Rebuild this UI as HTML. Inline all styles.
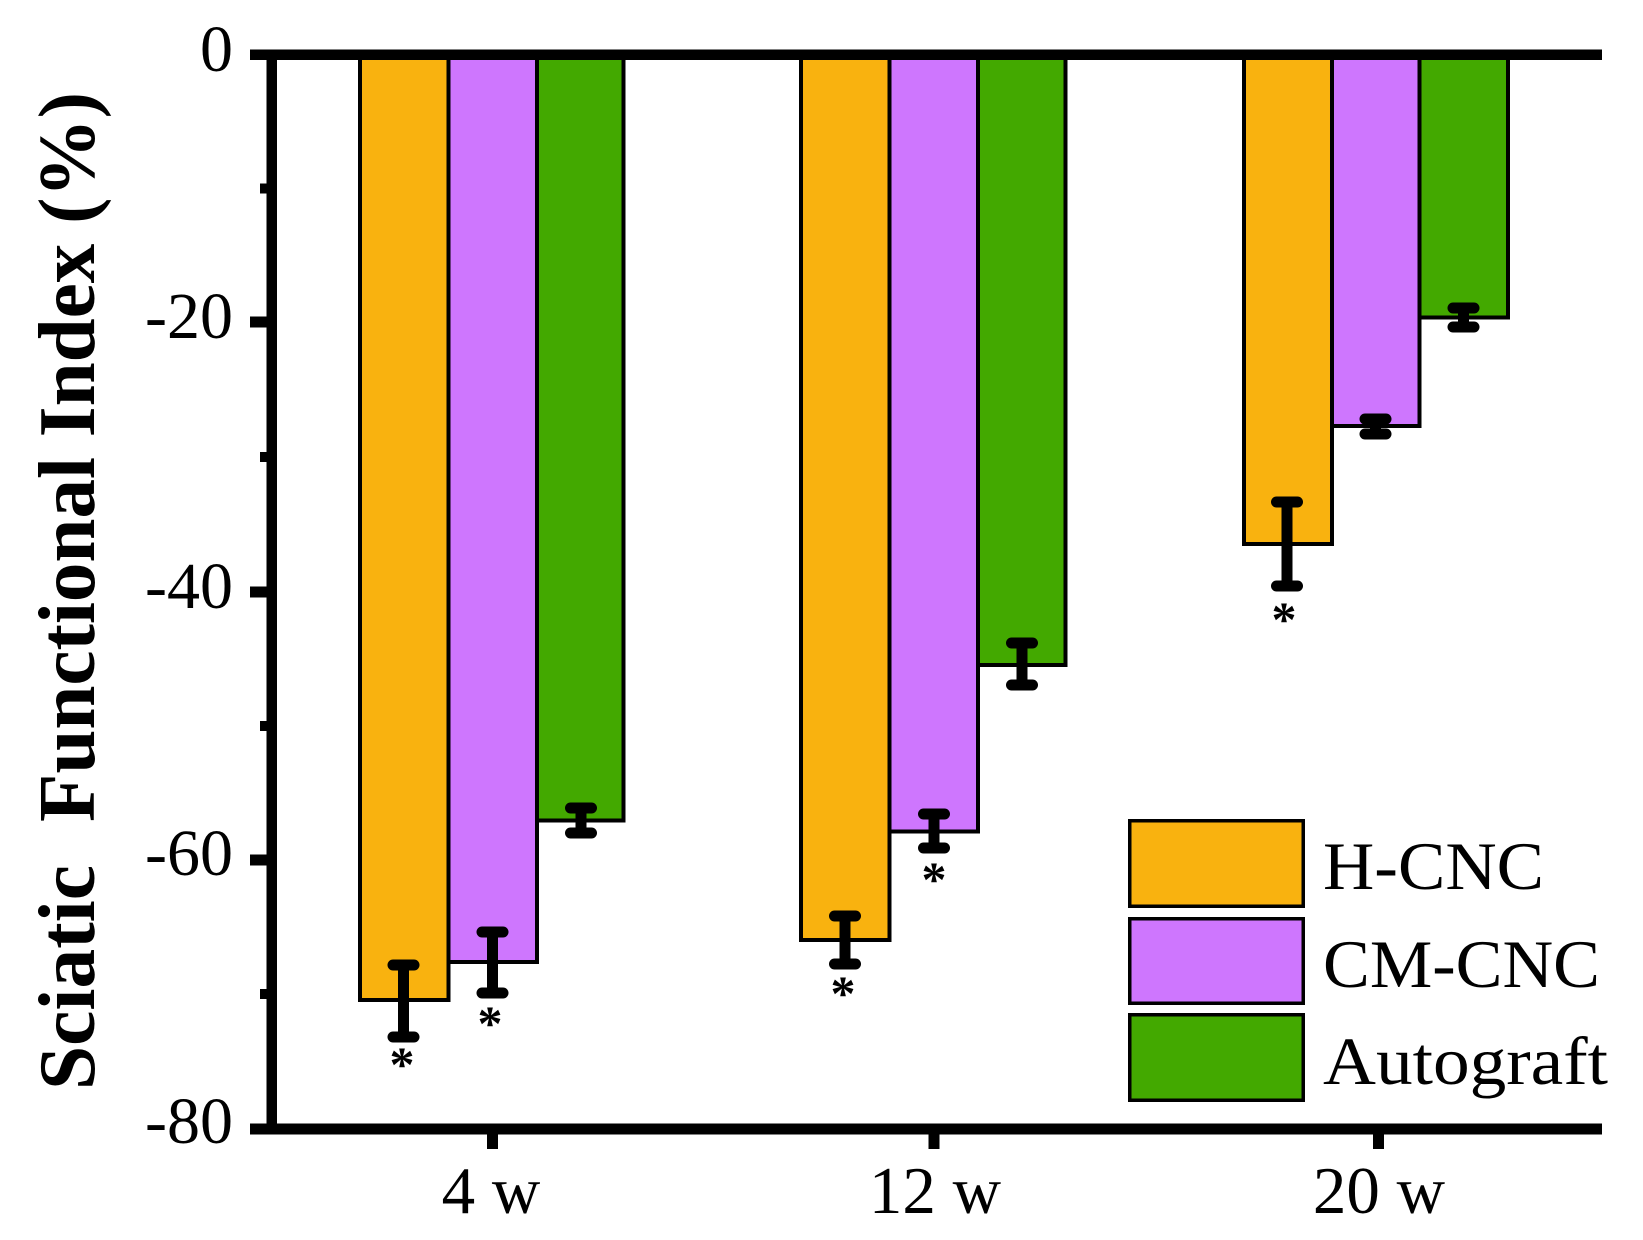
<!DOCTYPE html>
<html>
<head>
<meta charset="utf-8">
<style>
html,body{margin:0;padding:0;background:#fff;}
svg{display:block;}
text{font-family:"Liberation Serif",serif;fill:#000;}
</style>
</head>
<body>
<svg width="1643" height="1240" viewBox="0 0 1643 1240" xmlns="http://www.w3.org/2000/svg">
<rect width="1643" height="1240" fill="#fff"/>

<!-- Bars 4 w -->
<g stroke="#000" stroke-width="4">
<rect x="360" y="55" width="88.5" height="945" fill="#F9B20F"/>
<rect x="448.5" y="55" width="88.5" height="907" fill="#CE76FE"/>
<rect x="537" y="55" width="86.5" height="765.5" fill="#43A900"/>

<rect x="801" y="55" width="88.5" height="885" fill="#F9B20F"/>
<rect x="889.5" y="55" width="88.5" height="776.5" fill="#CE76FE"/>
<rect x="978" y="55" width="87.5" height="610" fill="#43A900"/>

<rect x="1244" y="55" width="88" height="489" fill="#F9B20F"/>
<rect x="1332" y="55" width="87.5" height="371" fill="#CE76FE"/>
<rect x="1419.5" y="55" width="88.5" height="262.5" fill="#43A900"/>
</g>

<!-- Error bars -->
<g stroke="#000" stroke-width="11" fill="none">
<!-- 4 w -->
<line x1="403.5" y1="965" x2="403.5" y2="1037"/>
<line x1="393" y1="965" x2="414" y2="965" stroke-linecap="round"/>
<line x1="393" y1="1037" x2="414" y2="1037" stroke-linecap="round"/>

<line x1="492.5" y1="932" x2="492.5" y2="993"/>
<line x1="482" y1="932" x2="503" y2="932" stroke-linecap="round"/>
<line x1="482" y1="993" x2="503" y2="993" stroke-linecap="round"/>

<line x1="581" y1="808" x2="581" y2="833"/>
<line x1="570.5" y1="808" x2="591.5" y2="808" stroke-linecap="round"/>
<line x1="570.5" y1="833" x2="591.5" y2="833" stroke-linecap="round"/>

<!-- 12 w -->
<line x1="845" y1="916" x2="845" y2="964"/>
<line x1="834.5" y1="916" x2="855.5" y2="916" stroke-linecap="round"/>
<line x1="834.5" y1="964" x2="855.5" y2="964" stroke-linecap="round"/>

<line x1="934" y1="814" x2="934" y2="848"/>
<line x1="923.5" y1="814" x2="944.5" y2="814" stroke-linecap="round"/>
<line x1="923.5" y1="848" x2="944.5" y2="848" stroke-linecap="round"/>

<line x1="1022" y1="643" x2="1022" y2="685"/>
<line x1="1011.5" y1="643" x2="1032.5" y2="643" stroke-linecap="round"/>
<line x1="1011.5" y1="685" x2="1032.5" y2="685" stroke-linecap="round"/>

<!-- 20 w -->
<line x1="1287" y1="502" x2="1287" y2="586"/>
<line x1="1276.5" y1="502" x2="1297.5" y2="502" stroke-linecap="round"/>
<line x1="1276.5" y1="586" x2="1297.5" y2="586" stroke-linecap="round"/>

<line x1="1375.5" y1="419" x2="1375.5" y2="434"/>
<line x1="1365" y1="419" x2="1386" y2="419" stroke-linecap="round"/>
<line x1="1365" y1="434" x2="1386" y2="434" stroke-linecap="round"/>

<line x1="1463.5" y1="308" x2="1463.5" y2="327"/>
<line x1="1453" y1="308" x2="1474" y2="308" stroke-linecap="round"/>
<line x1="1453" y1="327" x2="1474" y2="327" stroke-linecap="round"/>
</g>

<!-- Asterisks -->
<g font-size="50" font-weight="bold" text-anchor="middle">
<text x="402" y="1081">*</text>
<text x="490" y="1040">*</text>
<text x="843" y="1010">*</text>
<text x="934" y="896">*</text>
<text x="1284" y="636">*</text>
</g>

<!-- Axes -->
<g fill="#000">
<rect x="250" y="49.5" width="1352" height="10.5"/>
<rect x="250" y="1123.5" width="1352" height="11"/>
<rect x="266.5" y="49.5" width="10.5" height="1085"/>
<!-- major y ticks -->
<rect x="250" y="316.5" width="17" height="11"/>
<rect x="250" y="586.5" width="17" height="11"/>
<rect x="250" y="854.5" width="17" height="11"/>
<!-- minor y ticks -->
<rect x="260" y="183.5" width="7" height="10"/>
<rect x="260" y="452" width="7" height="10"/>
<rect x="260" y="721" width="7" height="10"/>
<rect x="260" y="989" width="7" height="10"/>
<!-- x ticks -->
<rect x="487" y="1134" width="11" height="15"/>
<rect x="928.5" y="1134" width="11" height="15"/>
<rect x="1373" y="1134" width="11" height="15"/>
</g>

<!-- Y tick labels -->
<g font-size="66" text-anchor="end">
<text x="233" y="71">0</text>
<text x="233" y="338">-20</text>
<text x="233" y="608">-40</text>
<text x="233" y="875">-60</text>
<text x="233" y="1143">-80</text>
</g>

<!-- X tick labels -->
<g font-size="67" text-anchor="middle">
<text x="491" y="1213">4 w</text>
<text x="935" y="1213">12 w</text>
<text x="1379" y="1213">20 w</text>
</g>

<!-- Y axis title -->
<g font-size="80" font-weight="bold">
<text transform="translate(94,1090) rotate(-90)" textLength="225" lengthAdjust="spacingAndGlyphs">Sciatic</text>
<text transform="translate(94,822) rotate(-90)" textLength="730" lengthAdjust="spacingAndGlyphs">Functional Index (%)</text>
</g>

<!-- Legend -->
<g stroke="#000" stroke-width="3.5">
<rect x="1129.75" y="820.75" width="173.5" height="85.5" fill="#F9B20F"/>
<rect x="1129.75" y="918.75" width="173.5" height="84.5" fill="#CE76FE"/>
<rect x="1129.75" y="1014.75" width="173.5" height="85.5" fill="#43A900"/>
</g>
<g font-size="68">
<text x="1323" y="889" textLength="221" lengthAdjust="spacingAndGlyphs">H-CNC</text>
<text x="1323" y="987" textLength="277" lengthAdjust="spacingAndGlyphs">CM-CNC</text>
<text x="1323" y="1084" textLength="285" lengthAdjust="spacingAndGlyphs">Autograft</text>
</g>
</svg>
</body>
</html>
